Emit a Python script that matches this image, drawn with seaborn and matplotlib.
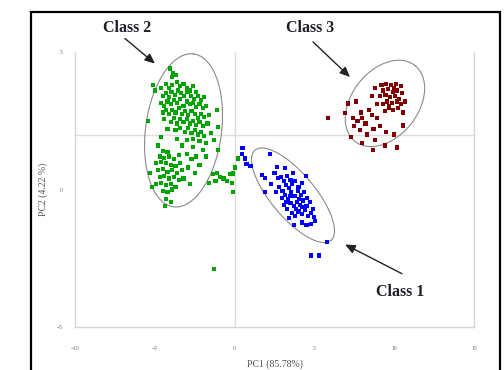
import numpy as np
import pandas as pd
import matplotlib
matplotlib.use("Agg")
import matplotlib.pyplot as plt
from matplotlib.patches import Rectangle
import seaborn as sns

# PCA scores (PC1, PC2) for the three classes
class2_x = [-4.05, -3.86, -3.92, -3.70, -5.10, -5.00, -4.60, -4.30, -4.10, -3.90, -3.60, -3.40, -3.20, -3.00, -2.80, -2.60, -2.40,
            -4.50, -4.30, -4.10, -3.95, -3.75, -3.55, -3.35, -3.15, -2.95, -2.75, -2.55, -2.30, -2.10, -1.90,
            -4.60, -4.40, -4.20, -4.00, -3.80, -3.60, -3.40, -3.20, -3.00, -2.80, -2.60, -2.40, -2.20, -2.00, -1.80, -1.10,
            -4.50, -4.30, -4.10, -3.90, -3.70, -3.50, -3.30, -3.10, -2.90, -2.70, -2.50, -2.30, -2.10, -1.90, -1.60,
            -5.40, -4.40, -4.00, -3.80, -3.60, -3.40, -3.20, -3.00, -2.80, -2.60, -2.40, -2.20, -2.00, -1.70, -1.04,
            -4.20, -3.70, -3.40, -3.10, -2.90, -2.70, -2.50, -2.30, -2.10, -1.90, -1.50,
            -4.60, -3.60, -3.00, -2.60, -2.20, -1.80, -1.30, -2.00, -1.04, -2.60, -3.30, -4.80,
            -4.50, -4.20, -4.70, -4.40, -4.10, -3.80, -3.50, -4.90, -4.60, -4.30, -4.00, -3.70, -3.40,
            -4.80, -4.50, -4.20, -3.90, -3.60, -3.30, -4.70, -4.40, -4.10, -3.80, -3.50,
            -4.90, -4.60, -4.30, -4.00, -3.70, -4.50, -4.20, -3.90, -4.30, -4.00, -4.35, -5.20, -5.30,
            -3.00, -2.70, -2.40, -2.90, -2.50, -3.20, -2.80, -2.20, -1.80,
            -1.35, -1.10, -0.90, -1.20, -0.70, -0.50, -1.60, -0.30, 0.20, 0.00, -0.10, -0.16, -0.10,
            -1.30]
class2_y = [4.40, 4.22, 4.08, 4.15, 3.80, 3.60, 3.70, 3.85, 3.70, 3.80, 3.90, 3.75, 3.85, 3.70, 3.60, 3.75, 3.55,
            3.40, 3.50, 3.35, 3.55, 3.45, 3.60, 3.50, 3.40, 3.55, 3.40, 3.30, 3.40, 3.25, 3.35,
            3.15, 3.05, 3.20, 3.10, 3.25, 3.15, 3.30, 3.05, 3.20, 3.10, 3.15, 3.00, 3.10, 2.95, 3.05, 2.90,
            2.80, 2.90, 2.75, 2.90, 2.80, 2.95, 2.75, 2.85, 2.70, 2.85, 2.75, 2.60, 2.75, 2.65, 2.70,
            2.50, 2.55, 2.45, 2.60, 2.40, 2.55, 2.45, 2.55, 2.40, 2.50, 2.35, 2.45, 2.30, 2.40, 2.26,
            2.20, 2.15, 2.25, 2.10, 2.25, 2.05, 2.15, 2.00, 2.10, 1.95, 2.05,
            1.90, 1.85, 1.80, 1.85, 1.75, 1.70, 1.80, 1.43, 1.43, 1.55, 1.60, 1.60,
            1.40, 1.35, 1.20, 1.15, 1.20, 1.10, 1.25, 0.95, 1.00, 0.95, 0.90, 0.85, 0.95,
            0.70, 0.75, 0.65, 0.70, 0.60, 0.70, 0.45, 0.50, 0.40, 0.45, 0.35,
            0.20, 0.25, 0.15, 0.20, 0.10, -0.05, -0.10, 0.00, -0.35, -0.45, -0.60, 0.10, 0.60,
            1.30, 1.10, 1.20, 0.80, 0.60, 0.40, 0.20, 0.90, 1.20,
            0.55, 0.60, 0.45, 0.30, 0.40, 0.30, 0.25, 0.55, 1.13, 0.80, 0.58, 0.25, -0.10,
            -2.90]

class1_x = [0.50, 0.45, 0.65, 0.75, 1.00, 2.20,
            1.70, 1.90, 1.90, 2.64, 3.16, 2.72, 2.30, 2.50,
            2.90, 3.10, 3.30, 3.50, 2.80, 3.00, 3.20, 3.40, 3.60, 3.80, 4.00, 4.20,
            2.95, 3.15, 3.35, 3.55, 3.75, 3.95, 4.15, 4.35, 4.55,
            3.10, 3.30, 3.50, 3.70, 3.90, 4.10, 4.30, 4.50, 4.70, 4.90,
            3.60, 3.80, 4.00, 4.20, 4.40, 4.60, 4.80, 5.00,
            3.70, 4.50, 4.20, 4.80, 5.05, 3.40,
            3.65, 4.45, 2.60, 3.85, 4.05, 3.45, 4.25, 3.25,
            5.80, 4.80, 5.30]
class1_y = [1.50, 1.30, 1.13, 0.94, 0.85, 1.30,
            0.52, 0.41, -0.09, 0.82, 0.77, 0.41, 0.20, 0.60,
            0.45, 0.30, 0.50, 0.35, 0.10, -0.05, 0.15, 0.05, 0.20, 0.30, 0.10, 0.25,
            -0.30, -0.20, -0.35, -0.10, -0.25, -0.05, -0.20, -0.10, -0.30,
            -0.55, -0.70, -0.50, -0.60, -0.45, -0.55, -0.40, -0.60, -0.45, -0.70,
            -0.85, -0.95, -0.80, -0.90, -0.75, -0.95, -0.85, -1.00,
            -1.30, -1.30, -1.20, -1.25, -1.15, -1.05,
            0.60, 0.50, -0.10, -0.70, -0.35, -0.25, -0.65, -0.45,
            -1.90, -2.40, -2.40]

class3_x = [9.20, 9.50, 9.80, 10.10, 10.40,
            9.30, 9.60, 9.90, 10.20, 10.50,
            9.10, 9.45, 9.75, 10.05, 10.30,
            9.55, 9.85, 10.15, 10.45, 9.30,
            9.65, 9.95, 10.25, 9.40, 10.55,
            8.80, 8.60, 10.70, 10.00, 9.70,
            7.10, 6.90, 7.40, 7.70, 8.00, 8.20, 7.90, 8.40, 8.60, 8.90,
            7.50, 7.86, 8.30, 8.70, 9.10, 9.50, 10.00, 7.30, 8.00, 8.80,
            9.40, 8.67, 10.20, 10.55, 7.60, 8.90, 5.85]
class3_y = [3.80, 3.85, 3.80, 3.85, 3.75,
            3.60, 3.65, 3.55, 3.60, 3.50,
            3.40, 3.45, 3.35, 3.40, 3.30,
            3.20, 3.15, 3.20, 3.10, 3.10,
            2.95, 2.90, 2.95, 2.85, 2.80,
            3.70, 3.40, 3.20, 3.70, 3.05,
            3.13, 2.77, 2.60, 2.50, 2.60, 2.40, 2.80, 2.90, 2.70, 2.60,
            2.30, 2.15, 2.00, 2.20, 2.30, 2.10, 2.00, 1.90, 1.70, 1.80,
            1.60, 1.43, 1.53, 2.33, 3.20, 3.10, 2.60]

class_names = ["Class 1", "Class 2", "Class 3"]
class_colors = ["#0000ff", "#00a400", "#800000"]

# Confidence ellipses: centre and two conjugate semi-axis vectors (PC units)
ellipse_center = [(3.66, -0.21), (-3.20, 2.15), (9.42, 3.13)]
ellipse_axis_a = [(2.38, -1.64), (0.63, 2.78), (1.88, 1.38)]
ellipse_axis_b = [(1.05, 0.52), (2.36, -0.18), (1.63, -0.75)]

# Class label position, arrow tail and arrow head
label_xy = [(10.36, -3.71), (-6.74, 5.86), (4.72, 5.86)]
arrow_tail = [(10.48, -3.06), (-6.87, 5.49), (4.91, 5.37)]
arrow_head = [(6.92, -2.00), (-4.99, 4.58), (7.23, 4.09)]

x_ticks = [-10, -5, 0, 5, 10, 15]
y_ticks = [-5, 0, 5]

df = pd.concat([
    pd.DataFrame({"PC1": class1_x, "PC2": class1_y, "cls": "Class 1"}),
    pd.DataFrame({"PC1": class2_x, "PC2": class2_y, "cls": "Class 2"}),
    pd.DataFrame({"PC1": class3_x, "PC2": class3_y, "cls": "Class 3"}),
], ignore_index=True)

sns.set_theme(style="white")
plt.rcParams["font.family"] = ["Liberation Serif", "DejaVu Serif"]

fig = plt.figure(figsize=(5.04, 3.70), dpi=100)
ax = fig.add_axes([75 / 504, 1 - 327 / 370, 399 / 504, 275 / 370])

# reference lines through the plot
ax.axvline(0, color="#dcdcdc", lw=1.0, zorder=0)
ax.axhline(2.0, color="#dcdcdc", lw=1.0, zorder=0)

sns.scatterplot(data=df, x="PC1", y="PC2", hue="cls", hue_order=class_names,
                palette=dict(zip(class_names, class_colors)), marker="s", s=9,
                linewidth=0, legend=False, ax=ax, zorder=3)

t = np.linspace(0, 2 * np.pi, 200)
for c, a, b in zip(ellipse_center, ellipse_axis_a, ellipse_axis_b):
    ex = c[0] + np.cos(t) * a[0] + np.sin(t) * b[0]
    ey = c[1] + np.cos(t) * a[1] + np.sin(t) * b[1]
    ax.plot(ex, ey, color="#8a8a8a", lw=0.8, zorder=2)

for name, txt, tail, head in zip(class_names, label_xy, arrow_tail, arrow_head):
    ax.text(txt[0], txt[1], name, ha="center", va="center", fontsize=11.5,
            fontweight="bold", color="#1e1e2a", clip_on=False)
    ax.annotate("", xy=head, xytext=tail, textcoords="data", annotation_clip=False,
                arrowprops=dict(arrowstyle="-|>,head_length=0.5,head_width=0.22",
                                color="#222222", lw=1.0, shrinkA=0, shrinkB=0))

ax.set_xlim(-10, 15)
ax.set_ylim(-5, 5)
ax.set_xticks(x_ticks)
ax.set_yticks(y_ticks)
ax.tick_params(axis="both", length=0, labelsize=4, labelcolor="#666666")
ax.tick_params(axis="x", pad=14)
ax.tick_params(axis="y", pad=9)

for side in ["left", "bottom", "right"]:
    ax.spines[side].set_color("#d6d6d6")
    ax.spines[side].set_linewidth(1.0)
ax.spines["top"].set_visible(False)

ax.set_xlabel("PC1 (85.78%)", fontsize=7, color="#555555", labelpad=6)
ax.set_ylabel("PC2 (4.22 %)", fontsize=7, color="#555555", labelpad=6)

# outer frame around the figure
fig.patches.append(Rectangle((31 / 504, -0.05), 469 / 504, 1.05 - 12 / 370,
                             transform=fig.transFigure, fill=False,
                             edgecolor="black", lw=1.6, zorder=10))

fig.savefig("out.png", dpi=100)
